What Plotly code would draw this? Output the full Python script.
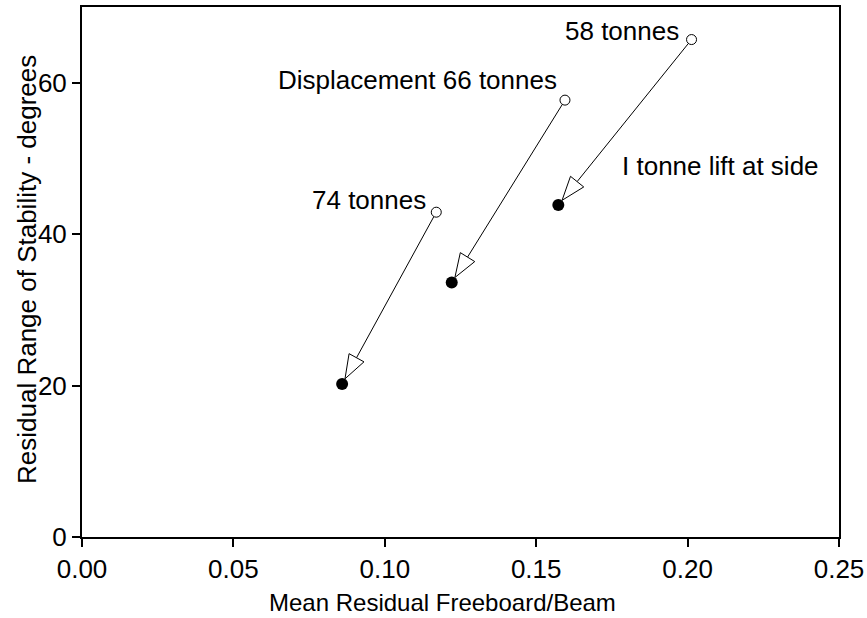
import numpy as np
import plotly.graph_objects as go

# Data
before_x = [0.117, 0.1595, 0.2013]   # open circles (before lift)
before_y = [42.9, 57.7, 65.7]
after_x = [0.0859, 0.1221, 0.1573]   # filled circles (1 tonne lift at side)
after_y = [20.2, 33.6, 43.85]
labels = ["74 tonnes", "Displacement 66 tonnes", "58 tonnes"]
x_ticks = [0.0, 0.05, 0.10, 0.15, 0.20, 0.25]
x_tick_text = ["0.00", "0.05", "0.10", "0.15", "0.20", "0.25"]
y_ticks = [0, 20, 40, 60]

XR = (0, 0.25)
YR = (0, 70)
W, H = 867, 618
ML, MR, MT, MB = 82, 28, 7, 81
PW, PH = W - ML - MR, H - MT - MB

def to_px(x, y):
    return (x - XR[0]) / (XR[1] - XR[0]) * PW, (y - YR[0]) / (YR[1] - YR[0]) * PH

def to_data(px, py):
    return XR[0] + px / PW * (XR[1] - XR[0]), YR[0] + py / PH * (YR[1] - YR[0])

FONT = "Liberation Sans, Arial, sans-serif"
ANN = 26
TICK = 26
fig = go.Figure()

# arrows
for bx, by, ax_, ay_ in zip(before_x, before_y, after_x, after_y):
    p0 = np.array(to_px(bx, by))
    p1 = np.array(to_px(ax_, ay_))
    d = p0 - p1
    u = d / np.linalg.norm(d)
    perp = np.array([-u[1], u[0]])
    tip = p1 + u * 6
    base = tip + u * 24
    c1 = base + perp * 8.5
    c2 = base - perp * 8.5
    start = p0 - u * 5
    lx, ly = zip(to_data(*start), to_data(*base))
    fig.add_trace(go.Scatter(x=list(lx), y=list(ly), mode="lines",
                             line=dict(color="black", width=1), showlegend=False, hoverinfo="skip"))
    pts = [to_data(*p) for p in (tip, c1, c2, tip)]
    fig.add_trace(go.Scatter(x=[p[0] for p in pts], y=[p[1] for p in pts], mode="lines",
                             fill="toself", fillcolor="white",
                             line=dict(color="black", width=1), showlegend=False, hoverinfo="skip"))

fig.add_trace(go.Scatter(x=before_x, y=before_y, mode="markers",
                         marker=dict(symbol="circle", size=10, color="white",
                                     line=dict(color="black", width=1)),
                         showlegend=False))
fig.add_trace(go.Scatter(x=after_x, y=after_y, mode="markers",
                         marker=dict(symbol="circle", size=12, color="black",
                                     line=dict(color="black", width=0)),
                         showlegend=False))

shifts = [(-8, 12), (-6, 20), (-11, 9)]
for (bx, by), lab, (xs, ys) in zip(zip(before_x, before_y), labels, shifts):
    fig.add_annotation(x=bx, y=by, text=lab, showarrow=False, xanchor="right", yanchor="middle",
                       xshift=xs, yshift=ys, font=dict(size=ANN, color="black", family=FONT))

fig.add_annotation(x=0.1776, y=49.0, text="I tonne lift at side", showarrow=False,
                   xanchor="left", yanchor="middle", font=dict(size=ANN, color="black", family=FONT))

fig.add_annotation(x=(442 - ML) / PW, y=(537 - 602) / PH, xref="paper", yref="paper",
                   text="Mean Residual Freeboard/Beam", showarrow=False,
                   xanchor="center", yanchor="middle", font=dict(size=24, color="black", family=FONT))
fig.add_annotation(x=(27 - ML) / PW, y=(537 - 270) / PH, xref="paper", yref="paper",
                   text="Residual Range of Stability - degrees", showarrow=False, textangle=-90,
                   xanchor="center", yanchor="middle", font=dict(size=26, color="black", family=FONT))

fig.update_layout(
    width=W, height=H,
    margin=dict(l=ML, r=MR, t=MT, b=MB, autoexpand=False),
    paper_bgcolor="white", plot_bgcolor="white",
    font=dict(family=FONT, size=TICK, color="black"),
    showlegend=False,
)
fig.update_xaxes(range=list(XR), tickvals=x_ticks, ticktext=x_tick_text, automargin=False,
                 showgrid=False, zeroline=False, showline=True, linecolor="black", linewidth=2,
                 mirror=True, ticks="outside", ticklen=8, tickwidth=2, tickcolor="black",
                 tickfont=dict(size=TICK, family=FONT))
fig.update_yaxes(range=list(YR), tickvals=y_ticks, automargin=False,
                 showgrid=False, zeroline=False, showline=True, linecolor="black", linewidth=2,
                 mirror=True, ticks="outside", ticklen=8, tickwidth=2, tickcolor="black",
                 tickfont=dict(size=TICK, family=FONT))

fig.write_html("out.html", config={"displayModeBar": False},
               post_script="document.body.style.margin='0';document.body.style.padding='0';")
